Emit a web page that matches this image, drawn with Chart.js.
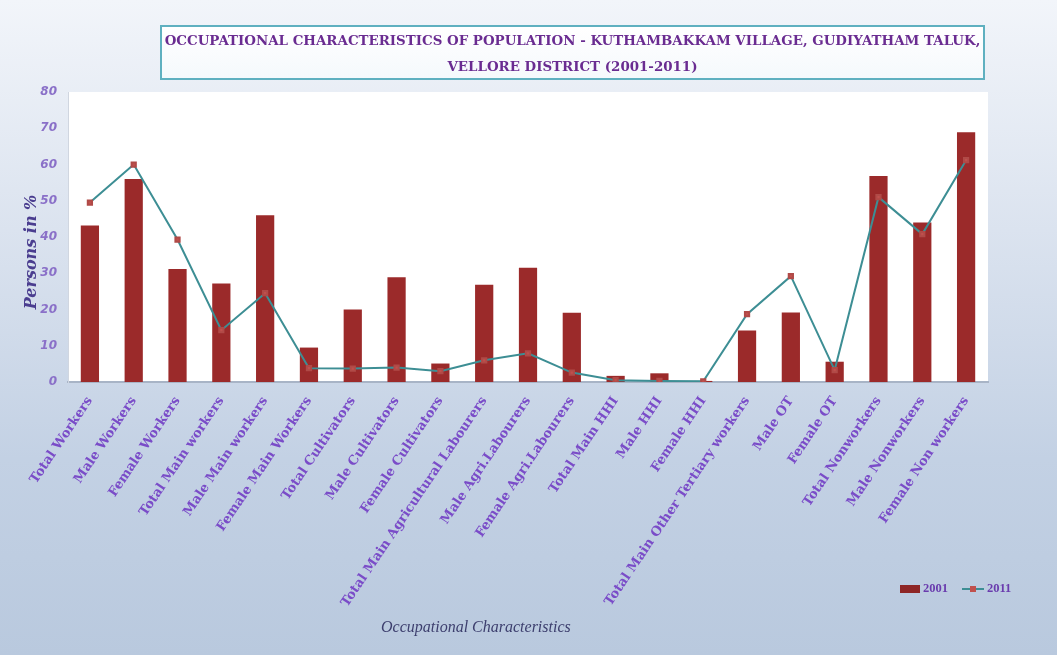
<!DOCTYPE html>
<html>
<head>
<meta charset="utf-8">
<script src="https://cdn.jsdelivr.net/npm/chart.js@4.4.1/dist/chart.umd.min.js"></script>
<style>
  html, body { margin: 0; padding: 0; }
  #wrap {
    position: relative; width: 1057px; height: 655px; overflow: hidden;
    background: linear-gradient(180deg, #f2f5fa 0%, #dbe3ef 35%, #c3d1e4 70%, #b9c9de 100%);
  }
  #chart { position: absolute; left: 0; top: 0; }
  #title {
    position: absolute; left: 160px; top: 25px; width: 825px; height: 55px;
    border: 2px solid #5fb0c0; background: linear-gradient(180deg, #ffffff, #f5f9fc);
    font-family: "DejaVu Serif", serif; font-weight: bold; font-size: 13.4px; line-height: 16px;
    color: #6a2c91; text-align: center; box-sizing: border-box;
  }
  #title .l1 { position: absolute; left: -10px; right: -10px; top: 5px; }
  #title .l2 { position: absolute; left: 0; right: 0; top: 31px; }
  #xtitle {
    position: absolute; left: 381px; top: 618px;
    font-family: "Liberation Serif", serif; font-style: italic; font-size: 16px; color: #3d3f6e;
  }
  #legend {
    position: absolute; left: 900px; top: 581px; font-family: "Liberation Serif", serif;
    font-size: 12.5px; font-weight: bold; color: #6a3cae; display: flex; align-items: center;
  }
  #legend .bar { width: 20px; height: 8px; background: #8e2626; margin-right: 3px; }
  #legend .ln { position: relative; width: 22px; height: 2px; background: #3d8e94; margin: 0 3px 0 14px; }
  #legend .ln i { position: absolute; left: 8px; top: -2px; width: 6px; height: 6px; background: #c0504d; }
</style>
</head>
<body>
<div id="wrap">
  <canvas id="chart" width="1057" height="655"></canvas>
  <div id="title">
    <div class="l1">OCCUPATIONAL CHARACTERISTICS OF POPULATION - KUTHAMBAKKAM VILLAGE, GUDIYATHAM TALUK,</div>
    <div class="l2">VELLORE DISTRICT (2001-2011)</div>
  </div>
  <div id="xtitle">Occupational Characteristics</div>
  <div id="legend"><span class="bar"></span>2001<span class="ln"><i></i></span>2011</div>
</div>
<script>
let categories = [
    "Total Workers", "Male Workers", "Female Workers", "Total Main workers",
    "Male Main workers", "Female Main Workers", "Total Cultivators", "Male Cultivators",
    "Female Cultivators", "Total Main Agricultural Labourers", "Male Agri.Labourers",
    "Female Agri.Labourers", "Total Main HHI", "Male HHI", "Female HHI",
    "Total Main Other Tertiary workers", "Male OT", "Female OT", "Total Nonworkers",
    "Male Nonworkers", "Female Non workers"
];
let values2001 = [43.2, 56, 31.2, 27.2, 46, 9.5, 20, 28.9, 5.1, 26.8, 31.5, 19.1, 1.7, 2.4, 0.3, 14.2, 19.2, 5.6, 56.8, 44, 68.9];
let values2011 = [49.5, 60, 39.3, 14.3, 24.5, 3.8, 3.7, 4.0, 3.0, 6.0, 7.9, 2.6, 0.5, 0.3, 0.2, 18.7, 29.2, 3.3, 51, 40.8, 61.2];
let yTicks = [0, 10, 20, 30, 40, 50, 60, 70, 80];
let yTitle = "Persons in %";

const plotBg = {
    id: "plotBg",
    beforeDraw(c) {
        let a = c.chartArea;
        let ctx = c.ctx;
        ctx.save();
        ctx.fillStyle = "#ffffff";
        ctx.fillRect(a.left, a.top, a.right - a.left, a.bottom - a.top);
        ctx.restore();
    },
    // y title sits a bit below the middle of the axis in the original
    afterDraw(c) {
        let ctx = c.ctx;
        ctx.save();
        ctx.translate(32, 252);
        ctx.rotate(-Math.PI / 2);
        ctx.font = "italic bold 16px 'DejaVu Serif'";
        ctx.fillStyle = "#4a3d8f";
        ctx.textAlign = "center";
        ctx.textBaseline = "middle";
        ctx.fillText(yTitle, 0, 0);
        ctx.restore();
    }
};

let ctx = document.getElementById("chart").getContext("2d");
let chart = new Chart(ctx, {
    data: {
        labels: categories,
        datasets: [{
            type: "line",
            label: "2011",
            data: values2011,
            borderColor: "#3d8e94",
            borderWidth: 2,
            pointStyle: "rect",
            pointRadius: 3,
            pointBackgroundColor: "#c0504d",
            pointBorderColor: "#b04a47",
            tension: 0,
            order: 0
        }, {
            type: "bar",
            label: "2001",
            data: values2001,
            backgroundColor: "#9b2a2a",
            borderWidth: 0,
            categoryPercentage: 0.8,
            barPercentage: 0.52,
            order: 1
        }]
    },
    options: {
        responsive: false,
        animation: false,
        layout: { padding: { left: 18, right: 69, top: 92, bottom: 33 } },
        plugins: { legend: { display: false }, tooltip: { enabled: false } },
        scales: {
            x: {
                grid: { display: false, drawTicks: false },
                border: { color: "#a8b4c6", width: 2 },
                ticks: {
                    autoSkip: false, minRotation: 56, maxRotation: 56, padding: 12,
                    color: "#7a4cc8",
                    font: { family: "DejaVu Serif", weight: "bold", size: 13 }
                }
            },
            y: {
                min: 0, max: 80,
                afterBuildTicks: s => { s.ticks = yTicks.map(v => ({ value: v })); },
                afterFit: s => { s.width = 50; },
                grid: { display: false, drawTicks: false },
                border: { color: "#d0d6e0" },
                ticks: {
                    padding: 11, color: "#8a70c8",
                    font: { family: "DejaVu Sans", style: "italic", weight: "bold", size: 12 }
                }
            }
        }
    },
    plugins: [plotBg]
});
</script>
</body>
</html>
